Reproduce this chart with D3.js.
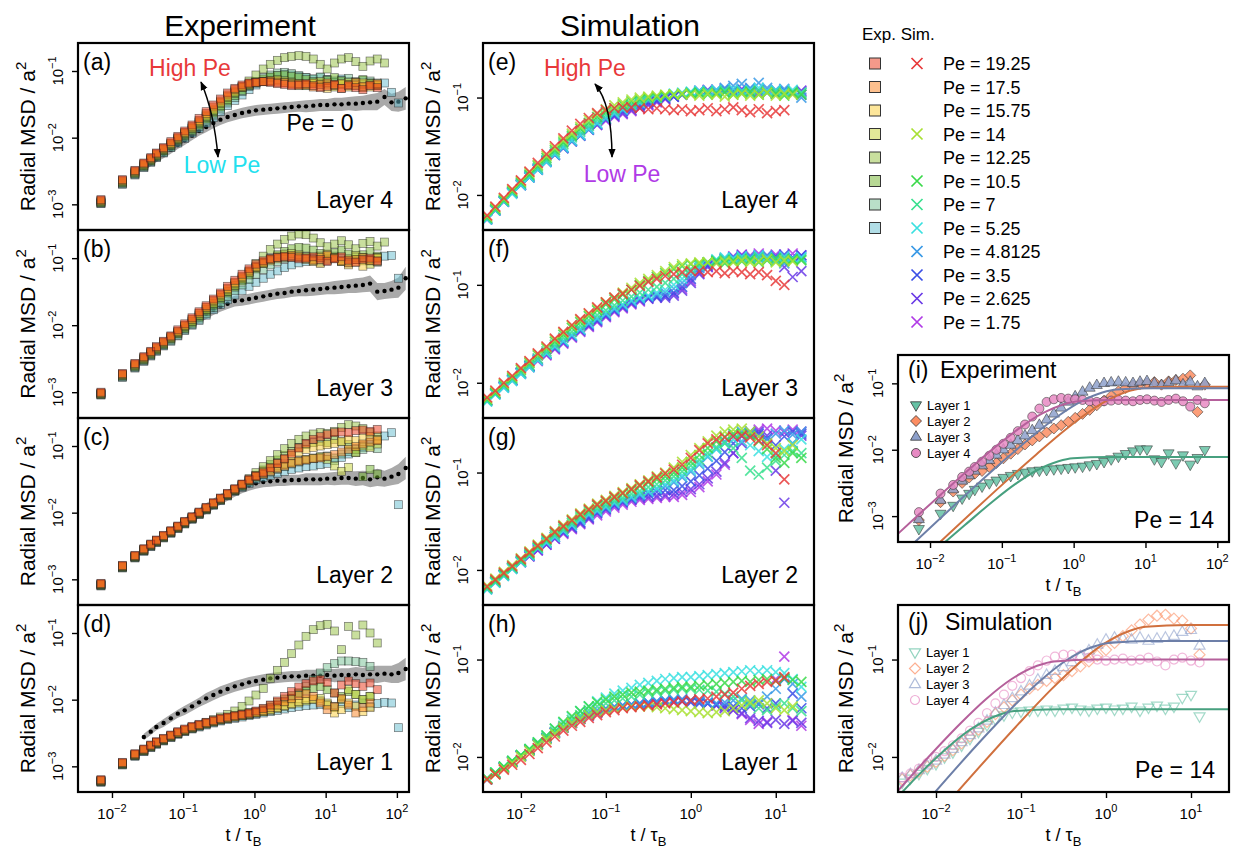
<!DOCTYPE html>
<html>
<head>
<meta charset="utf-8">
<script src="https://d3js.org/d3.v7.min.js"></script>
<style>
  body { margin: 0; background: white; }
  svg { display: block; font-family: "Liberation Sans", Arial, sans-serif; }
</style>
</head>
<body>
<svg id="chart" width="1233" height="848"></svg>
<script>
// ---------- data (MSD values are log10) ----------
var expTimes = [0.007,0.014,0.021,0.028,0.035,0.042,0.053,0.067,0.084,0.105,0.133,0.167,0.21,0.265,0.333,0.42,0.53,0.67,0.84,1.05,1.33,1.67,2.1,2.65,3.33,4.2,5.3,6.7,8.4,10.5,13.3,16.7,21,26.5,33.3,42,53,67,84,105,133]
var simTimes = [0.004,0.005,0.0063,0.0079,0.01,0.0126,0.0158,0.02,0.0251,0.0316,0.0398,0.05,0.063,0.079,0.1,0.126,0.158,0.2,0.251,0.316,0.398,0.5,0.63,0.79,1,1.26,1.58,2,2.51,3.16,3.98,5,6.3,7.9,10,12.6,15.8,20]

var expPe = ["19.25","17.5","15.75","14","12.25","10.5","7","5.25"]
var expColors = ["#e93315","#fb811d","#fbcd35","#c5d131","#93bf3d","#6fb129","#73bf91","#63bbcd"]
var simPe = ["19.25","14","10.5","7","5.25","4.8125","3.5","2.625","1.75"]
var simColors = ["#e8393a","#a8e032","#3ad94a","#3ae08f","#3ae0e0","#3a9ae6","#3a4fe6","#6a3ae6","#b03ae6"]

var legendPe = ["19.25","17.5","15.75","14","12.25","10.5","7","5.25","4.8125","3.5","2.625","1.75"]
var legendExp = [0,1,2,3,4,5,6,7,null,null,null,null]
var legendSim = [0,null,null,1,null,2,3,4,5,6,7,8]

// experiment, order as expPe
var expLayer4 = [
  [-2.93,-2.63,-2.49,-2.38,-2.3,-2.23,-2.15,-2.06,-1.98,-1.9,-1.81,-1.71,-1.61,-1.51,-1.42,-1.33,-1.26,-1.21,-1.18,-1.17,-1.16,-1.17,-1.19,-1.2,-1.22,-1.21,-1.19,-1.22,-1.25,-1.23,-1.2,-1.26,-1.22,-1.25,-1.28,-1.22,-1.25],
  [-2.94,-2.64,-2.5,-2.39,-2.31,-2.24,-2.16,-2.08,-2.0,-1.92,-1.83,-1.74,-1.64,-1.54,-1.45,-1.36,-1.28,-1.23,-1.19,-1.17,-1.16,-1.15,-1.17,-1.18,-1.2,-1.19,-1.21,-1.24,-1.2,-1.18,-1.22,-1.26,-1.2,-1.17,-1.23,-1.21,-1.19],
  [-2.95,-2.65,-2.51,-2.4,-2.32,-2.25,-2.17,-2.09,-2.01,-1.93,-1.85,-1.76,-1.66,-1.57,-1.47,-1.38,-1.3,-1.24,-1.2,-1.18,-1.16,-1.16,-1.15,-1.17,-1.19,-1.22,-1.2,-1.18,-1.23,-1.26,-1.21,-1.19,-1.24,-1.21,-1.18,-1.24,-1.2],
  [-2.96,-2.66,-2.52,-2.41,-2.33,-2.26,-2.18,-2.1,-2.02,-1.94,-1.86,-1.77,-1.68,-1.59,-1.49,-1.4,-1.32,-1.25,-1.21,-1.18,-1.16,-1.14,-1.13,-1.15,-1.17,-1.2,-1.22,-1.19,-1.16,-1.21,-1.24,-1.2,-1.17,-1.22,-1.25,-1.19,-1.22],
  [-2.97,-2.67,-2.53,-2.42,-2.34,-2.27,-2.19,-2.11,-2.03,-1.95,-1.87,-1.79,-1.7,-1.61,-1.52,-1.43,-1.34,-1.25,-1.15,-1.06,-0.97,-0.9,-0.84,-0.8,-0.78,-0.77,-0.78,-0.82,-0.9,-0.97,-0.88,-0.82,-0.8,-0.86,-0.93,-0.85,-0.82,-0.88],
  [-2.98,-2.68,-2.54,-2.43,-2.35,-2.28,-2.2,-2.12,-2.04,-1.97,-1.89,-1.81,-1.72,-1.63,-1.54,-1.45,-1.37,-1.29,-1.22,-1.16,-1.12,-1.09,-1.07,-1.06,-1.08,-1.1,-1.13,-1.16,-1.18,-1.14,-1.1,-1.15,-1.2,-1.17,-1.13,-1.18,-1.21],
  [-2.98,-2.69,-2.55,-2.44,-2.36,-2.29,-2.22,-2.14,-2.06,-1.99,-1.91,-1.83,-1.75,-1.66,-1.57,-1.48,-1.4,-1.31,-1.23,-1.16,-1.1,-1.06,-1.03,-1.02,-1.04,-1.07,-1.1,-1.12,-1.09,-1.13,-1.17,-1.14,-1.11,-1.16,-1.2,-1.15,-1.18],
  [-2.99,-2.7,-2.56,-2.45,-2.37,-2.3,-2.23,-2.15,-2.08,-2.01,-1.93,-1.86,-1.78,-1.7,-1.61,-1.52,-1.44,-1.36,-1.28,-1.21,-1.15,-1.1,-1.07,-1.05,-1.06,-1.08,-1.1,-1.12,-1.1,-1.13,-1.15,-1.12,-1.16,-1.19,-1.14,-1.18,-1.22,-1.18,-1.32,-1.48]
]
var expLayer3 = [
  [-3.0,-2.72,-2.57,-2.47,-2.39,-2.32,-2.24,-2.16,-2.07,-1.98,-1.89,-1.8,-1.71,-1.61,-1.52,-1.42,-1.33,-1.24,-1.16,-1.09,-1.04,-1.01,-0.99,-0.98,-0.99,-1.01,-1.0,-0.98,-1.02,-1.05,-1.01,-0.98,-1.03,-1.06,-1.02,-1.0,-1.04],
  [-3.01,-2.73,-2.58,-2.48,-2.4,-2.33,-2.25,-2.17,-2.09,-2.0,-1.91,-1.82,-1.73,-1.63,-1.54,-1.45,-1.36,-1.27,-1.19,-1.12,-1.06,-1.02,-0.99,-0.97,-0.96,-0.98,-1.0,-1.03,-0.99,-0.96,-1.0,-1.04,-1.07,-1.02,-0.99,-1.03,-1.05],
  [-3.02,-2.74,-2.59,-2.49,-2.41,-2.34,-2.26,-2.18,-2.1,-2.01,-1.92,-1.83,-1.74,-1.65,-1.56,-1.47,-1.38,-1.29,-1.21,-1.14,-1.08,-1.04,-1.01,-0.99,-0.98,-0.99,-1.02,-1.05,-1.08,-1.03,-0.99,-1.05,-1.1,-1.06,-1.12,-1.04,-1.0],
  [-3.02,-2.74,-2.6,-2.5,-2.42,-2.35,-2.27,-2.19,-2.11,-2.02,-1.94,-1.85,-1.76,-1.67,-1.58,-1.49,-1.4,-1.31,-1.22,-1.14,-1.07,-1.01,-0.97,-0.94,-0.93,-0.95,-0.98,-1.02,-0.97,-0.94,-0.99,-1.05,-1.01,-0.96,-1.04,-1.09,-0.99],
  [-3.03,-2.75,-2.61,-2.51,-2.43,-2.36,-2.28,-2.2,-2.12,-2.04,-1.95,-1.86,-1.77,-1.68,-1.59,-1.5,-1.41,-1.31,-1.2,-1.08,-0.97,-0.87,-0.79,-0.72,-0.67,-0.64,-0.65,-0.7,-0.77,-0.83,-0.79,-0.74,-0.8,-0.86,-0.78,-0.75,-0.82,-0.76],
  [-3.03,-2.76,-2.62,-2.52,-2.44,-2.37,-2.29,-2.21,-2.13,-2.05,-1.97,-1.88,-1.79,-1.7,-1.61,-1.52,-1.43,-1.34,-1.25,-1.16,-1.08,-1.01,-0.95,-0.9,-0.86,-0.84,-0.85,-0.88,-0.93,-0.97,-0.92,-0.88,-0.94,-0.99,-0.95,-0.9,-0.97],
  [-3.04,-2.77,-2.63,-2.53,-2.45,-2.38,-2.3,-2.23,-2.15,-2.07,-1.99,-1.91,-1.83,-1.74,-1.66,-1.57,-1.48,-1.4,-1.32,-1.24,-1.17,-1.1,-1.05,-1.01,-0.98,-0.97,-0.98,-1.0,-1.03,-1.0,-0.97,-1.01,-1.05,-1.02,-0.99,-1.03,-1.06],
  [-3.04,-2.78,-2.64,-2.54,-2.46,-2.39,-2.31,-2.24,-2.16,-2.08,-2.0,-1.93,-1.85,-1.77,-1.69,-1.62,-1.55,-1.48,-1.42,-1.36,-1.3,-1.24,-1.19,-1.14,-1.1,-1.07,-1.05,-1.04,-1.06,-1.03,-1.0,-1.04,-1.07,-1.02,-0.99,-1.03,-0.99,-0.97,-0.96,-1.3]
]
var expLayer2 = [
  [-3.06,-2.79,-2.64,-2.54,-2.47,-2.41,-2.34,-2.27,-2.2,-2.13,-2.06,-1.99,-1.92,-1.85,-1.78,-1.71,-1.64,-1.57,-1.5,-1.45,-1.4,-1.33,-1.26,-1.19,-1.11,-1.03,-0.96,-0.9,-0.86,-0.83,-0.8,-0.79,-0.8,-0.77,-0.76,-0.78,-0.75],
  [-3.07,-2.8,-2.65,-2.55,-2.48,-2.42,-2.35,-2.28,-2.21,-2.14,-2.07,-2.0,-1.93,-1.86,-1.79,-1.72,-1.65,-1.58,-1.52,-1.46,-1.42,-1.38,-1.34,-1.3,-1.26,-1.23,-1.21,-1.19,-1.18,-1.16,-1.13,-1.09,-1.05,-1.01,-0.97,-0.94,-0.92],
  [-3.07,-2.8,-2.65,-2.55,-2.48,-2.42,-2.35,-2.28,-2.21,-2.14,-2.07,-2.0,-1.93,-1.86,-1.79,-1.72,-1.65,-1.58,-1.51,-1.44,-1.38,-1.32,-1.26,-1.2,-1.14,-1.09,-1.05,-1.02,-1.0,-0.98,-0.96,-0.93,-0.9,-0.92,-0.88,-0.86,-0.9],
  [-3.08,-2.81,-2.66,-2.56,-2.49,-2.43,-2.36,-2.29,-2.22,-2.15,-2.08,-2.01,-1.94,-1.87,-1.8,-1.73,-1.66,-1.59,-1.52,-1.46,-1.41,-1.36,-1.32,-1.28,-1.25,-1.22,-1.2,-1.18,-1.16,-1.2,-1.3,-1.38,-1.32,-1.1,-1.0,-1.02,-0.97],
  [-3.08,-2.81,-2.66,-2.56,-2.49,-2.43,-2.36,-2.29,-2.22,-2.15,-2.08,-2.01,-1.94,-1.87,-1.8,-1.73,-1.66,-1.58,-1.49,-1.4,-1.31,-1.22,-1.13,-1.04,-0.96,-0.9,-0.85,-0.82,-0.8,-0.81,-0.78,-0.72,-0.68,-0.7,-0.74,-0.8,-0.85],
  [-3.09,-2.82,-2.67,-2.57,-2.5,-2.44,-2.37,-2.3,-2.23,-2.16,-2.09,-2.02,-1.95,-1.88,-1.81,-1.74,-1.67,-1.6,-1.52,-1.44,-1.36,-1.28,-1.21,-1.14,-1.08,-1.02,-0.98,-0.95,-0.93,-0.95,-0.9,-0.94,-0.98,-1.05,-1.46,-1.35,-1.42],
  [-3.09,-2.82,-2.67,-2.57,-2.5,-2.44,-2.37,-2.3,-2.23,-2.16,-2.09,-2.02,-1.95,-1.88,-1.81,-1.74,-1.67,-1.61,-1.54,-1.48,-1.43,-1.39,-1.35,-1.31,-1.27,-1.24,-1.21,-1.19,-1.17,-1.15,-1.18,-1.12,-1.08,-1.1,-1.05,-1.0,-1.04],
  [-3.1,-2.83,-2.68,-2.58,-2.51,-2.45,-2.38,-2.31,-2.24,-2.17,-2.1,-2.03,-1.96,-1.89,-1.82,-1.75,-1.68,-1.62,-1.56,-1.5,-1.47,-1.44,-1.41,-1.38,-1.35,-1.33,-1.31,-1.3,-1.28,-1.26,-1.22,-1.17,-1.12,-1.08,-1.02,-0.95,-0.9,-0.85,-0.8,-1.88]
]
var expLayer1 = [
  [-3.2,-2.94,-2.81,-2.74,-2.68,-2.63,-2.58,-2.53,-2.48,-2.44,-2.4,-2.37,-2.34,-2.31,-2.28,-2.26,-2.24,-2.22,-2.2,-2.17,-2.13,-2.08,-2.02,-1.95,-1.88,-1.81,-1.76,-1.72,-1.7,-1.74,-1.9,-1.78,-1.72,-1.76,-1.8,-1.75,-1.85],
  [-3.21,-2.95,-2.82,-2.75,-2.69,-2.64,-2.59,-2.54,-2.49,-2.45,-2.41,-2.38,-2.35,-2.32,-2.29,-2.27,-2.25,-2.23,-2.21,-2.19,-2.16,-2.12,-2.08,-2.03,-1.98,-1.94,-1.91,-1.95,-2.05,-2.15,-2.1,-1.98,-2.08,-2.2,-2.12,-2.05],
  [-3.21,-2.95,-2.82,-2.75,-2.69,-2.64,-2.59,-2.54,-2.5,-2.46,-2.42,-2.39,-2.36,-2.33,-2.3,-2.28,-2.26,-2.24,-2.22,-2.2,-2.18,-2.15,-2.12,-2.09,-2.06,-2.03,-2.0,-1.99,-2.02,-2.08,-2.2,-2.15,-2.05,-2.1,-2.18,-2.12],
  [-3.22,-2.96,-2.83,-2.76,-2.7,-2.65,-2.6,-2.55,-2.5,-2.46,-2.42,-2.39,-2.36,-2.33,-2.3,-2.28,-2.26,-2.24,-2.22,-2.2,-2.18,-2.16,-2.13,-2.1,-2.07,-2.05,-2.02,-2.0,-1.98,-2.05,-2.12,-2.0,-1.85,-1.92,-2.0,-1.95],
  [-3.22,-2.96,-2.83,-2.76,-2.7,-2.65,-2.6,-2.55,-2.5,-2.46,-2.42,-2.38,-2.34,-2.3,-2.26,-2.22,-2.17,-2.1,-2.02,-1.93,-1.83,-1.68,-1.56,-1.44,-1.31,-1.18,-1.05,-0.95,-0.89,-0.87,-0.97,-1.25,-0.9,-1.03,-0.88,-1.0,-1.15],
  [-3.23,-2.97,-2.84,-2.77,-2.71,-2.66,-2.61,-2.56,-2.51,-2.47,-2.43,-2.39,-2.36,-2.33,-2.3,-2.27,-2.24,-2.21,-2.19,-2.18,-2.14,-2.09,-2.04,-1.99,-1.94,-1.9,-1.86,-1.83,-1.8,-1.85,-1.9,-1.95,-1.88,-1.92,-2.0,-1.95],
  [-3.23,-2.97,-2.84,-2.77,-2.71,-2.66,-2.61,-2.56,-2.51,-2.47,-2.43,-2.4,-2.37,-2.34,-2.31,-2.28,-2.26,-2.24,-2.22,-2.2,-2.17,-2.13,-2.09,-2.04,-1.98,-1.9,-1.8,-1.7,-1.6,-1.52,-1.46,-1.42,-1.42,-1.43,-1.44,-1.5],
  [-3.24,-2.98,-2.85,-2.78,-2.72,-2.67,-2.62,-2.57,-2.52,-2.48,-2.44,-2.41,-2.38,-2.35,-2.32,-2.3,-2.28,-2.26,-2.24,-2.22,-2.2,-2.18,-2.16,-2.14,-2.12,-2.1,-2.09,-2.08,-2.07,-2.08,-2.1,-2.06,-2.12,-2.08,-2.05,-2.1,-2.06,-2.04,-2.05,-2.42]
]
// Pe = 0 reference (black dots) and half-width of its grey band
var zero4 = [null,null,null,-2.45,-2.38,-2.32,-2.25,-2.18,-2.11,-2.04,-1.97,-1.9,-1.84,-1.78,-1.73,-1.69,-1.66,-1.63,-1.61,-1.59,-1.58,-1.57,-1.56,-1.55,-1.54,-1.53,-1.53,-1.52,-1.51,-1.51,-1.5,-1.5,-1.49,-1.49,-1.48,-1.47,-1.46,-1.39,-1.47,-1.46,-1.41]
var zero3 = [null,null,null,-2.5,-2.42,-2.35,-2.27,-2.19,-2.11,-2.03,-1.96,-1.89,-1.83,-1.77,-1.72,-1.68,-1.64,-1.63,-1.61,-1.59,-1.57,-1.55,-1.53,-1.52,-1.5,-1.49,-1.48,-1.47,-1.46,-1.45,-1.44,-1.43,-1.42,-1.41,-1.4,-1.38,-1.5,-1.49,-1.47,-1.44,-1.3]
var zero2 = [null,null,null,-2.56,-2.49,-2.43,-2.36,-2.29,-2.22,-2.15,-2.08,-2.01,-1.94,-1.87,-1.8,-1.74,-1.68,-1.63,-1.59,-1.56,-1.54,-1.53,-1.52,-1.52,-1.51,-1.51,-1.5,-1.5,-1.5,-1.49,-1.49,-1.48,-1.48,-1.49,-1.48,-1.5,-1.47,-1.49,-1.46,-1.42,-1.33]
var zero1 = [null,null,null,-2.56,-2.48,-2.41,-2.35,-2.28,-2.21,-2.16,-2.1,-2.04,-1.98,-1.93,-1.88,-1.84,-1.8,-1.77,-1.74,-1.72,-1.7,-1.68,-1.67,-1.66,-1.65,-1.65,-1.64,-1.64,-1.64,-1.63,-1.64,-1.63,-1.63,-1.62,-1.63,-1.62,-1.62,-1.61,-1.62,-1.6,-1.54]
var zeroSpread = [0,0,0,0.05,0.05,0.05,0.06,0.06,0.06,0.07,0.07,0.07,0.08,0.08,0.08,0.08,0.08,0.08,0.08,0.08,0.08,0.08,0.08,0.08,0.08,0.08,0.09,0.09,0.09,0.09,0.1,0.1,0.1,0.11,0.11,0.12,0.13,0.12,0.13,0.15,0.17]

// simulation, order as simPe
var simLayer4 = [
  [-2.21,-2.12,-2.03,-1.94,-1.85,-1.76,-1.67,-1.58,-1.5,-1.42,-1.34,-1.27,-1.21,-1.16,-1.13,-1.11,-1.1,-1.1,-1.11,-1.12,-1.11,-1.12,-1.13,-1.12,-1.14,-1.13,-1.11,-1.14,-1.12,-1.1,-1.13,-1.15,-1.12,-1.16,-1.14,-1.13],
  [-2.22,-2.13,-2.04,-1.95,-1.86,-1.77,-1.69,-1.6,-1.52,-1.44,-1.37,-1.3,-1.23,-1.17,-1.12,-1.08,-1.05,-1.02,-1.0,-0.99,-0.98,-0.97,-0.97,-0.96,-0.97,-0.98,-0.96,-0.97,-0.99,-0.97,-0.96,-0.98,-0.97,-0.95,-0.98,-0.96,-0.97],
  [-2.23,-2.14,-2.05,-1.96,-1.87,-1.79,-1.7,-1.62,-1.54,-1.46,-1.39,-1.32,-1.26,-1.2,-1.15,-1.11,-1.07,-1.04,-1.02,-1.0,-0.99,-0.98,-0.97,-0.97,-0.96,-0.95,-0.97,-0.96,-0.95,-0.97,-0.96,-0.94,-0.97,-0.95,-0.96,-0.98,-0.95,-0.97],
  [-2.24,-2.15,-2.06,-1.97,-1.88,-1.8,-1.72,-1.64,-1.56,-1.48,-1.41,-1.35,-1.29,-1.23,-1.18,-1.14,-1.1,-1.07,-1.04,-1.02,-1.0,-0.98,-0.97,-0.96,-0.95,-0.96,-0.94,-0.95,-0.93,-0.95,-0.94,-0.96,-0.93,-0.95,-0.94,-0.96,-0.94,-0.95],
  [-2.25,-2.16,-2.07,-1.99,-1.9,-1.82,-1.74,-1.66,-1.58,-1.51,-1.44,-1.38,-1.32,-1.26,-1.21,-1.16,-1.12,-1.08,-1.05,-1.02,-1.0,-0.98,-0.96,-0.95,-0.94,-0.93,-0.94,-0.92,-0.93,-0.91,-0.93,-0.92,-0.9,-0.93,-0.92,-0.94,-0.92,-0.95],
  [-2.25,-2.16,-2.07,-1.98,-1.9,-1.82,-1.74,-1.66,-1.59,-1.52,-1.45,-1.39,-1.33,-1.27,-1.22,-1.17,-1.13,-1.09,-1.06,-1.03,-1.01,-0.99,-0.97,-0.96,-0.95,-0.94,-0.93,-0.92,-0.9,-0.88,-0.86,-0.9,-0.85,-0.9,-0.93,-0.91,-0.94,-1.0],
  [-2.24,-2.15,-2.06,-1.97,-1.89,-1.81,-1.73,-1.65,-1.58,-1.51,-1.44,-1.38,-1.32,-1.27,-1.22,-1.18,-1.14,-1.11,-1.08,-1.05,-1.03,-1.01,-0.99,-0.97,-0.96,-0.95,-0.94,-0.95,-0.93,-0.94,-0.92,-0.95,-0.93,-0.94,-0.96,-0.93,-0.95,-0.97],
  [-2.25,-2.16,-2.07,-1.98,-1.9,-1.82,-1.74,-1.66,-1.59,-1.52,-1.45,-1.39,-1.33,-1.28,-1.23,-1.19,-1.16,-1.13,-1.1,-1.07,-1.04,-1.01,-0.99,-0.97,-0.95,-0.93,-0.92,-0.93,-0.91,-0.92,-0.94,-0.91,-0.93,-0.95,-0.92,-0.94,-0.96,-0.93],
  [-2.25,-2.16,-2.07,-1.98,-1.9,-1.82,-1.74,-1.66,-1.59,-1.52,-1.45,-1.39,-1.33,-1.28,-1.24,-1.2,-1.17,-1.14,-1.11,-1.08,-1.05,-1.02,-0.99,-0.97,-0.96,-0.94,-0.93,-0.92,-0.94,-0.93,-0.91,-0.93,-0.95,-0.92,-0.94,-0.93,-0.95,-0.94]
]
var simLayer3 = [
  [-2.15,-2.08,-2.0,-1.93,-1.85,-1.78,-1.7,-1.63,-1.55,-1.48,-1.41,-1.35,-1.29,-1.23,-1.18,-1.13,-1.09,-1.05,-1.01,-0.97,-0.94,-0.91,-0.89,-0.87,-0.86,-0.86,-0.87,-0.86,-0.88,-0.86,-0.87,-0.89,-0.87,-0.9,-0.96,-1.0],
  [-2.16,-2.09,-2.01,-1.94,-1.86,-1.79,-1.71,-1.64,-1.56,-1.49,-1.42,-1.36,-1.3,-1.24,-1.18,-1.13,-1.08,-1.03,-0.98,-0.94,-0.9,-0.86,-0.82,-0.79,-0.78,-0.77,-0.77,-0.78,-0.76,-0.77,-0.75,-0.77,-0.76,-0.74,-0.77,-0.75,-0.76],
  [-2.17,-2.1,-2.02,-1.95,-1.87,-1.8,-1.72,-1.65,-1.58,-1.51,-1.44,-1.38,-1.32,-1.26,-1.2,-1.15,-1.1,-1.05,-1.0,-0.96,-0.92,-0.88,-0.84,-0.81,-0.79,-0.78,-0.77,-0.76,-0.78,-0.75,-0.76,-0.74,-0.77,-0.75,-0.73,-0.76,-0.74,-0.75],
  [-2.18,-2.11,-2.03,-1.96,-1.89,-1.82,-1.75,-1.68,-1.61,-1.54,-1.48,-1.42,-1.36,-1.31,-1.26,-1.21,-1.16,-1.12,-1.08,-1.05,-1.02,-0.98,-0.94,-0.89,-0.84,-0.8,-0.77,-0.75,-0.74,-0.76,-0.73,-0.75,-0.72,-0.74,-0.76,-0.73,-0.75,-0.74],
  [-2.19,-2.12,-2.05,-1.98,-1.91,-1.84,-1.77,-1.7,-1.63,-1.57,-1.51,-1.45,-1.39,-1.34,-1.29,-1.24,-1.2,-1.16,-1.13,-1.11,-1.08,-1.05,-1.0,-0.94,-0.87,-0.81,-0.77,-0.74,-0.72,-0.73,-0.71,-0.73,-0.7,-0.72,-0.74,-0.71,-0.73,-0.72],
  [-2.19,-2.12,-2.05,-1.98,-1.91,-1.84,-1.77,-1.7,-1.64,-1.58,-1.52,-1.46,-1.4,-1.35,-1.3,-1.25,-1.21,-1.17,-1.14,-1.12,-1.1,-1.08,-1.04,-0.98,-0.9,-0.83,-0.78,-0.75,-0.73,-0.72,-0.74,-0.71,-0.73,-0.7,-0.72,-0.78,-0.74,-0.72],
  [-2.18,-2.11,-2.04,-1.97,-1.9,-1.83,-1.76,-1.7,-1.64,-1.58,-1.52,-1.46,-1.41,-1.36,-1.31,-1.26,-1.22,-1.18,-1.15,-1.13,-1.12,-1.11,-1.08,-1.02,-0.94,-0.86,-0.8,-0.76,-0.74,-0.72,-0.71,-0.73,-0.7,-0.72,-0.71,-0.69,-0.72,-0.7],
  [-2.18,-2.11,-2.04,-1.97,-1.9,-1.83,-1.77,-1.71,-1.65,-1.59,-1.53,-1.47,-1.42,-1.37,-1.32,-1.27,-1.23,-1.19,-1.16,-1.14,-1.13,-1.13,-1.11,-1.06,-0.98,-0.89,-0.82,-0.77,-0.74,-0.72,-0.7,-0.72,-0.71,-0.73,-0.75,-0.82,-0.92,-0.86],
  [-2.18,-2.11,-2.04,-1.97,-1.9,-1.84,-1.78,-1.72,-1.66,-1.6,-1.54,-1.48,-1.43,-1.38,-1.33,-1.28,-1.24,-1.2,-1.17,-1.14,-1.12,-1.11,-1.09,-1.04,-0.96,-0.88,-0.81,-0.76,-0.73,-0.71,-0.69,-0.7,-0.68,-0.7,-0.69,-0.71,-0.68,-0.7]
]
var simLayer2 = [
  [-2.17,-2.1,-2.03,-1.96,-1.89,-1.82,-1.75,-1.68,-1.61,-1.55,-1.49,-1.43,-1.38,-1.33,-1.29,-1.25,-1.21,-1.17,-1.13,-1.09,-1.05,-1.01,-0.97,-0.92,-0.85,-0.77,-0.7,-0.66,-0.64,-0.63,-0.62,-0.64,-0.67,-0.72,-0.8,-1.07],
  [-2.16,-2.09,-2.02,-1.95,-1.88,-1.81,-1.74,-1.67,-1.6,-1.54,-1.48,-1.42,-1.37,-1.32,-1.28,-1.24,-1.2,-1.16,-1.12,-1.08,-1.04,-1.0,-0.95,-0.89,-0.82,-0.75,-0.68,-0.62,-0.58,-0.56,-0.55,-0.58,-0.63,-0.7,-0.75,-0.78,-0.72],
  [-2.18,-2.11,-2.04,-1.97,-1.9,-1.83,-1.76,-1.69,-1.62,-1.56,-1.5,-1.44,-1.39,-1.34,-1.3,-1.26,-1.22,-1.18,-1.14,-1.1,-1.07,-1.04,-1.0,-0.95,-0.89,-0.82,-0.75,-0.68,-0.63,-0.6,-0.6,-0.62,-0.68,-0.76,-0.85,-0.9,-0.8,-0.85],
  [-2.19,-2.12,-2.05,-1.98,-1.91,-1.84,-1.77,-1.7,-1.64,-1.58,-1.52,-1.46,-1.41,-1.37,-1.33,-1.29,-1.26,-1.22,-1.19,-1.15,-1.12,-1.08,-1.04,-0.99,-0.93,-0.87,-0.8,-0.74,-0.7,-0.75,-0.85,-0.98,-1.02,-0.95,-0.88,-0.82,-0.78,-0.8],
  [-2.2,-2.13,-2.06,-1.99,-1.92,-1.85,-1.78,-1.72,-1.66,-1.6,-1.54,-1.48,-1.43,-1.39,-1.35,-1.31,-1.28,-1.25,-1.22,-1.19,-1.16,-1.12,-1.08,-1.03,-0.97,-0.9,-0.83,-0.76,-0.7,-0.66,-0.68,-0.72,-0.78,-0.84,-0.82,-0.76,-0.7,-0.66],
  [-2.2,-2.13,-2.06,-1.99,-1.92,-1.85,-1.78,-1.72,-1.66,-1.6,-1.54,-1.49,-1.44,-1.4,-1.36,-1.32,-1.29,-1.26,-1.23,-1.2,-1.17,-1.14,-1.1,-1.05,-0.99,-0.92,-0.84,-0.76,-0.68,-0.62,-0.58,-0.6,-0.63,-0.66,-0.6,-0.57,-0.61,-0.58],
  [-2.19,-2.12,-2.05,-1.98,-1.91,-1.85,-1.78,-1.72,-1.66,-1.61,-1.56,-1.51,-1.46,-1.41,-1.37,-1.33,-1.3,-1.27,-1.24,-1.22,-1.2,-1.18,-1.18,-1.14,-1.09,-1.03,-0.96,-0.88,-0.79,-0.7,-0.63,-0.58,-0.6,-0.65,-0.72,-0.63,-0.58,-0.6],
  [-2.19,-2.12,-2.05,-1.98,-1.92,-1.86,-1.8,-1.74,-1.68,-1.62,-1.57,-1.52,-1.47,-1.42,-1.38,-1.34,-1.31,-1.28,-1.26,-1.25,-1.24,-1.23,-1.22,-1.2,-1.17,-1.12,-1.06,-0.99,-0.9,-0.8,-0.7,-0.62,-0.58,-0.62,-0.98,-1.31,-0.7,-0.62],
  [-2.19,-2.12,-2.05,-1.98,-1.92,-1.86,-1.8,-1.74,-1.68,-1.63,-1.58,-1.53,-1.48,-1.44,-1.4,-1.36,-1.33,-1.3,-1.28,-1.27,-1.26,-1.25,-1.25,-1.23,-1.2,-1.15,-1.09,-1.02,-0.92,-0.8,-0.68,-0.6,-0.56,-0.55,-0.57,-0.59,-0.56,-0.58]
]
var simLayer1 = [
  [-2.23,-2.18,-2.13,-2.08,-2.03,-1.97,-1.91,-1.85,-1.79,-1.73,-1.68,-1.64,-1.6,-1.57,-1.54,-1.52,-1.5,-1.49,-1.48,-1.47,-1.46,-1.45,-1.44,-1.43,-1.42,-1.41,-1.4,-1.38,-1.36,-1.34,-1.3,-1.27,-1.25,-1.23,-1.22,-1.18],
  [-2.23,-2.18,-2.12,-2.06,-2.0,-1.94,-1.88,-1.82,-1.76,-1.7,-1.65,-1.61,-1.57,-1.54,-1.52,-1.5,-1.49,-1.48,-1.48,-1.48,-1.49,-1.5,-1.51,-1.52,-1.53,-1.54,-1.55,-1.54,-1.53,-1.5,-1.47,-1.44,-1.42,-1.45,-1.5,-1.52,-1.48],
  [-2.22,-2.16,-2.1,-2.04,-1.98,-1.92,-1.85,-1.78,-1.71,-1.64,-1.58,-1.53,-1.48,-1.44,-1.41,-1.38,-1.36,-1.34,-1.33,-1.32,-1.31,-1.3,-1.29,-1.28,-1.28,-1.27,-1.26,-1.25,-1.24,-1.23,-1.22,-1.23,-1.21,-1.2,-1.22,-1.19,-1.21,-1.23],
  [-2.22,-2.16,-2.1,-2.04,-1.98,-1.92,-1.86,-1.8,-1.74,-1.68,-1.62,-1.57,-1.52,-1.48,-1.45,-1.42,-1.4,-1.38,-1.36,-1.34,-1.33,-1.32,-1.31,-1.3,-1.3,-1.31,-1.32,-1.33,-1.35,-1.38,-1.42,-1.46,-1.5,-1.52,-1.48,-1.45,-1.5,-1.53],
  [-2.22,-2.16,-2.1,-2.04,-1.98,-1.92,-1.85,-1.78,-1.71,-1.65,-1.59,-1.53,-1.48,-1.43,-1.39,-1.35,-1.32,-1.29,-1.26,-1.24,-1.22,-1.2,-1.19,-1.18,-1.18,-1.17,-1.16,-1.15,-1.14,-1.13,-1.12,-1.11,-1.12,-1.11,-1.13,-1.14,-1.2,-1.28],
  [-2.23,-2.17,-2.11,-2.05,-1.99,-1.93,-1.87,-1.81,-1.75,-1.69,-1.64,-1.59,-1.55,-1.52,-1.5,-1.48,-1.47,-1.46,-1.45,-1.44,-1.43,-1.42,-1.41,-1.41,-1.42,-1.43,-1.44,-1.45,-1.44,-1.42,-1.4,-1.42,-1.45,-1.38,-1.3,-1.2,-1.25,-1.38],
  [-2.23,-2.17,-2.11,-2.05,-1.99,-1.93,-1.87,-1.81,-1.75,-1.7,-1.65,-1.61,-1.57,-1.54,-1.51,-1.49,-1.47,-1.46,-1.45,-1.44,-1.43,-1.42,-1.42,-1.43,-1.44,-1.45,-1.45,-1.46,-1.47,-1.48,-1.5,-1.48,-1.46,-1.5,-1.45,-1.2,-1.35,-1.5],
  [-2.23,-2.17,-2.11,-2.05,-1.99,-1.93,-1.87,-1.81,-1.75,-1.7,-1.65,-1.61,-1.57,-1.54,-1.51,-1.49,-1.48,-1.47,-1.46,-1.45,-1.44,-1.43,-1.42,-1.41,-1.42,-1.43,-1.45,-1.47,-1.5,-1.52,-1.55,-1.6,-1.63,-1.65,-1.62,-1.66,-1.63,-1.65],
  [-2.23,-2.17,-2.11,-2.05,-1.99,-1.93,-1.87,-1.81,-1.75,-1.7,-1.65,-1.61,-1.58,-1.55,-1.52,-1.5,-1.49,-1.48,-1.47,-1.46,-1.45,-1.44,-1.44,-1.43,-1.43,-1.44,-1.45,-1.47,-1.49,-1.52,-1.56,-1.62,-1.66,-1.64,-1.2,-0.97,-1.62,-1.68]
]

// Pe = 14, layers 1..4
var layerNames = ["Layer 1","Layer 2","Layer 3","Layer 4"]
var layerFill = ["#66c2a5","#fc8d62","#8da0cb","#e78ac3"]
var layerLine = ["#47a07f","#d0703e","#6d7fa8","#b5609b"]
var pe14Exp = [
  [-3.19,-2.96,-2.84,-2.73,-2.66,-2.6,-2.55,-2.5,-2.46,-2.42,-2.39,-2.36,-2.34,-2.32,-2.31,-2.3,-2.29,-2.28,-2.27,-2.26,-2.25,-2.23,-2.21,-2.18,-2.14,-2.1,-2.06,-2.02,-1.99,-1.99,-2.14,-2.18,-2.05,-2.2,-2.08,-2.22,-2.12,-2.0],
  [-3.06,-2.79,-2.63,-2.5,-2.42,-2.36,-2.32,-2.26,-2.2,-2.13,-2.06,-1.99,-1.92,-1.86,-1.8,-1.74,-1.68,-1.63,-1.58,-1.52,-1.46,-1.4,-1.33,-1.26,-1.19,-1.12,-1.07,-1.03,-1.01,-1.0,-0.98,-1.02,-0.97,-0.95,-0.93,-0.88,-1.43,-1.02],
  [-3.05,-2.76,-2.6,-2.47,-2.39,-2.32,-2.24,-2.16,-2.08,-2.0,-1.93,-1.86,-1.79,-1.71,-1.63,-1.55,-1.46,-1.37,-1.28,-1.2,-1.13,-1.07,-1.03,-1.0,-0.99,-0.98,-0.99,-1.0,-0.98,-0.97,-1.0,-1.03,-0.99,-0.96,-1.02,-0.98,-1.05,-1.0],
  [-2.94,-2.66,-2.53,-2.41,-2.33,-2.26,-2.18,-2.09,-2.0,-1.91,-1.82,-1.72,-1.62,-1.5,-1.38,-1.28,-1.24,-1.22,-1.23,-1.24,-1.25,-1.27,-1.28,-1.27,-1.26,-1.25,-1.26,-1.27,-1.25,-1.24,-1.26,-1.28,-1.25,-1.23,-1.27,-1.35,-1.25,-1.3]
]
var pe14Sim = [
  [-2.26,-2.22,-2.17,-2.12,-2.07,-2.0,-1.95,-1.88,-1.81,-1.74,-1.67,-1.61,-1.57,-1.54,-1.53,-1.52,-1.52,-1.51,-1.52,-1.5,-1.49,-1.51,-1.52,-1.5,-1.49,-1.51,-1.5,-1.48,-1.52,-1.49,-1.47,-1.5,-1.48,-1.39,-1.36,-1.58],
  [-2.23,-2.19,-2.15,-2.1,-2.05,-1.99,-1.93,-1.86,-1.79,-1.72,-1.64,-1.56,-1.49,-1.42,-1.36,-1.3,-1.26,-1.22,-1.19,-1.16,-1.12,-1.07,-1.02,-0.96,-0.9,-0.83,-0.76,-0.7,-0.64,-0.59,-0.55,-0.54,-0.58,-0.6,-0.68,-0.95],
  [-2.22,-2.18,-2.14,-2.09,-2.04,-1.98,-1.92,-1.85,-1.78,-1.71,-1.63,-1.55,-1.47,-1.4,-1.33,-1.27,-1.21,-1.16,-1.12,-1.08,-1.03,-0.97,-0.91,-0.85,-0.8,-0.78,-0.79,-0.8,-0.78,-0.81,-0.79,-0.78,-0.76,-0.72,-0.7,-0.86],
  [-2.21,-2.17,-2.12,-2.06,-2.0,-1.94,-1.88,-1.81,-1.73,-1.65,-1.55,-1.45,-1.36,-1.27,-1.19,-1.12,-1.06,-1.01,-0.97,-0.95,-0.95,-0.96,-0.98,-1.0,-1.01,-1.0,-0.99,-1.01,-1.0,-0.98,-1.02,-1.06,-1.0,-0.98,-1.01,-1.03]
]
// fitted curves, [log10 t, log10 MSD]
var pe14ExpFits = [
  [[-1.79,-3.39],[-1.51,-3.131],[-1.11,-2.764],[-0.81,-2.515],[-0.51,-2.309],[-0.21,-2.174],[-0.01,-2.129],[0.49,-2.11],[2.16,-2.11]],
  [[-1.86,-3.39],[-0.52,-2.071],[-0.12,-1.704],[0.18,-1.455],[0.48,-1.25],[0.78,-1.114],[0.98,-1.069],[1.48,-1.05],[2.16,-1.05]],
  [[-2.21,-3.39],[-0.9,-2.096],[-0.5,-1.729],[-0.2,-1.48],[0.1,-1.275],[0.4,-1.139],[0.6,-1.094],[1.1,-1.075],[2.16,-1.075]],
  [[-2.44,-3.26],[-1.43,-2.27],[-1.03,-1.904],[-0.73,-1.655],[-0.43,-1.45],[-0.13,-1.314],[0.07,-1.27],[0.57,-1.25],[2.16,-1.25]]
]
var pe14SimFits = [
  [[-2.45,-2.41],[-2.18,-2.164],[-1.88,-1.915],[-1.58,-1.71],[-1.28,-1.574],[-1.08,-1.529],[-0.58,-1.51],[1.45,-1.51]],
  [[-1.76,-2.37],[-1.035,-1.666],[-0.635,-1.299],[-0.335,-1.05],[-0.035,-0.845],[0.265,-0.709],[0.465,-0.664],[0.965,-0.645],[1.45,-0.645]],
  [[-2.02,-2.37],[-1.47,-1.831],[-1.07,-1.464],[-0.77,-1.215],[-0.47,-1.01],[-0.17,-0.874],[0.03,-0.829],[0.53,-0.81],[1.45,-0.81]],
  [[-2.45,-2.35],[-2.11,-2.021],[-1.71,-1.654],[-1.41,-1.405],[-1.11,-1.2],[-0.81,-1.064],[-0.61,-1.019],[-0.11,-1.0],[1.45,-1.0]]
]

// ---------- layout ----------
var svg = d3.select("#chart")
var W = 331
var rows = [43, 230, 418, 605, 792]
var expT = [-2.477, 2.17], expM = [-3.385, -0.58]
var simT = [-2.446, 1.45], simM = [-2.36, -0.44]
var clipCount = 0

svg.append("defs").append("marker")
	.attr("id", "head")
	.attr("viewBox", "0 0 10 10")
	.attr("refX", 9).attr("refY", 5)
	.attr("markerWidth", 9).attr("markerHeight", 9)
	.attr("markerUnits", "userSpaceOnUse")
	.attr("orient", "auto-start-reverse")
	.append("path").attr("d", "M0,1 L10,5 L0,9 Z").attr("fill", "black")

function pow10(v) { return Math.pow(10, v) }

function makePanel(x0, y0, y1, tDom, mDom) {
	var id = "clip" + (clipCount++)
	svg.select("defs").append("clipPath").attr("id", id)
		.append("rect").attr("x", x0).attr("y", y0).attr("width", W).attr("height", y1 - y0)
	var g = svg.append("g")
	return {
		g: g,
		plot: g.append("g").attr("clip-path", "url(#" + id + ")"),
		x: d3.scaleLog().domain(tDom.map(pow10)).range([x0, x0 + W]),
		y: d3.scaleLog().domain(mDom.map(pow10)).range([y1, y0]),
		x0: x0, x1: x0 + W, y0: y0, y1: y1
	}
}

function powLabel(text, k) {
	text.append("tspan").text("10")
	text.append("tspan").attr("dy", -7).attr("font-size", 11).text(k < 0 ? "\u2212" + (-k) : String(k))
}

function yAxis(p, powers) {
	p.g.append("g")
		.attr("transform", "translate(" + p.x0 + ",0)")
		.call(d3.axisLeft(p.y).tickValues(powers.map(pow10)).tickSize(6).tickFormat(""))
		.call(a => a.select(".domain").remove())
		.selectAll("line").attr("stroke-width", 1.4)
	powers.forEach(k => {
		var t = p.g.append("text")
			.attr("transform", "translate(" + (p.x0 - 15) + "," + p.y(pow10(k)) + ") rotate(-90)")
			.attr("text-anchor", "middle").attr("font-size", 15)
		powLabel(t, k)
	})
}

function xAxis(p, powers) {
	p.g.append("g")
		.attr("transform", "translate(0," + p.y1 + ")")
		.call(d3.axisBottom(p.x).tickValues(powers.map(pow10)).tickSize(6).tickFormat(""))
		.call(a => a.select(".domain").remove())
		.selectAll("line").attr("stroke-width", 1.4)
	powers.forEach(k => {
		var t = p.g.append("text")
			.attr("x", p.x(pow10(k))).attr("y", p.y1 + 27)
			.attr("text-anchor", "middle").attr("font-size", 15)
		powLabel(t, k)
	})
	var title = p.g.append("text")
		.attr("x", (p.x0 + p.x1) / 2).attr("y", p.y1 + 49)
		.attr("text-anchor", "middle").attr("font-size", 18)
	title.append("tspan").text("t / \u03c4")
	title.append("tspan").attr("dy", 5).attr("font-size", 13).text("B")
}

function yTitle(x, p) {
	var t = svg.append("text")
		.attr("transform", "translate(" + x + "," + ((p.y0 + p.y1) / 2) + ") rotate(-90)")
		.attr("text-anchor", "middle").attr("font-size", 21)
	t.append("tspan").text("Radial MSD / a")
	t.append("tspan").attr("dy", -9).attr("font-size", 15).text("2")
}

function box(p) {
	p.g.append("rect")
		.attr("x", p.x0).attr("y", p.y0).attr("width", W).attr("height", p.y1 - p.y0)
		.attr("fill", "none").attr("stroke", "black").attr("stroke-width", 2.2)
}

function label(p, text, x, y, anchor, size, color) {
	return p.g.append("text").attr("x", x).attr("y", y)
		.attr("text-anchor", anchor || "start")
		.attr("font-size", size || 23)
		.attr("fill", color || "black").text(text)
}

function points(series, times) {
	return series.map((v, i) => v == null ? null : { t: times[i], v: v, i: i }).filter(d => d)
}

var crossPath = "M-5,-5L5,5M-5,5L5,-5"

function drawExp(p, layer, zero) {
	var zp = points(zero, expTimes)
	p.plot.append("path").datum(zp)
		.attr("d", d3.area()
			.x(d => p.x(d.t))
			.y0(d => p.y(pow10(d.v - zeroSpread[d.i])))
			.y1(d => p.y(pow10(d.v + zeroSpread[d.i]))))
		.attr("fill", "#a9a9a9")
	p.plot.append("g").selectAll("circle").data(zp).join("circle")
		.attr("cx", d => p.x(d.t)).attr("cy", d => p.y(pow10(d.v))).attr("r", 2.2)
		.attr("fill", "black")
	for (var s = layer.length - 1; s >= 0; s--) {
		p.plot.append("g").selectAll("rect").data(points(layer[s], expTimes)).join("rect")
			.attr("x", d => p.x(d.t) - 4).attr("y", d => p.y(pow10(d.v)) - 4)
			.attr("width", 8).attr("height", 8)
			.attr("fill", expColors[s]).attr("fill-opacity", 0.5)
			.attr("stroke", "#222").attr("stroke-opacity", 0.6).attr("stroke-width", 0.7)
	}
}

function drawSim(p, layer) {
	for (var s = layer.length - 1; s >= 0; s--) {
		p.plot.append("g").selectAll("path").data(points(layer[s], simTimes)).join("path")
			.attr("transform", d => "translate(" + p.x(d.t) + "," + p.y(pow10(d.v)) + ")")
			.attr("d", crossPath)
			.attr("fill", "none").attr("stroke", simColors[s])
			.attr("stroke-opacity", 0.85).attr("stroke-width", 1.7)
	}
}

var layerSymbols = [
	"M-5.5,-3.2L5.5,-3.2L0,6.3Z",
	"M0,-5.5L5.5,0L0,5.5L-5.5,0Z",
	"M-5.5,3.2L5.5,3.2L0,-6.3Z",
	d3.symbol(d3.symbolCircle, 64)()
]

function drawLayers(p, data, times, fits, filled) {
	data.forEach((series, k) => {
		var sel = p.plot.append("g").selectAll("path").data(points(series, times)).join("path")
			.attr("transform", d => "translate(" + p.x(d.t) + "," + p.y(pow10(d.v)) + ")")
			.attr("d", layerSymbols[k])
		if (filled) {
			sel.attr("fill", layerFill[k]).attr("fill-opacity", 0.85)
				.attr("stroke", "#333").attr("stroke-opacity", 0.7).attr("stroke-width", 0.8)
		} else {
			sel.attr("fill", "none").attr("stroke", layerFill[k])
				.attr("stroke-opacity", 0.6).attr("stroke-width", 1.2)
		}
	})
	fits.forEach((f, k) => {
		p.plot.append("path").datum(f)
			.attr("d", d3.line().curve(d3.curveMonotoneX)
				.x(d => p.x(pow10(d[0]))).y(d => p.y(pow10(d[1]))))
			.attr("fill", "none").attr("stroke", layerLine[k]).attr("stroke-width", 2)
	})
}

function layerLegend(p, x, ys, filled) {
	layerNames.forEach((name, k) => {
		var s = p.g.append("path")
			.attr("transform", "translate(" + x + "," + ys[k] + ")")
			.attr("d", layerSymbols[k])
		if (filled) s.attr("fill", layerFill[k]).attr("stroke", "#333").attr("stroke-width", 0.8)
		else s.attr("fill", "none").attr("stroke", layerFill[k]).attr("stroke-opacity", 0.7).attr("stroke-width", 1.2)
		label(p, name, x + 11, ys[k] + 4.5, "start", 13)
	})
}

// ---------- experiment column ----------
var expRows = [
	{ layer: expLayer4, zero: zero4, tag: "(a)", name: "Layer 4" },
	{ layer: expLayer3, zero: zero3, tag: "(b)", name: "Layer 3" },
	{ layer: expLayer2, zero: zero2, tag: "(c)", name: "Layer 2" },
	{ layer: expLayer1, zero: zero1, tag: "(d)", name: "Layer 1" }
]
expRows.forEach((r, i) => {
	var p = makePanel(78, rows[i], rows[i + 1], expT, expM)
	drawExp(p, r.layer, r.zero)
	yAxis(p, [-3, -2, -1])
	if (i == 3) xAxis(p, [-2, -1, 0, 1, 2])
	yTitle(35, p)
	label(p, r.tag, p.x0 + 5, p.y0 + 27)
	label(p, r.name, p.x1 - 16, p.y1 - 22, "end")
	box(p)
	if (i == 0) {
		label(p, "High Pe", 190, 76, "middle", 23, "#e8393a")
		label(p, "Low Pe", 222, 173, "middle", 23, "#22e0ee")
		label(p, "Pe = 0", 320, 131, "middle", 23)
		p.g.append("path").attr("d", "M201,82 Q214,112 218,157")
			.attr("fill", "none").attr("stroke", "black").attr("stroke-width", 1.5)
			.attr("marker-start", "url(#head)").attr("marker-end", "url(#head)")
	}
})
svg.append("text").attr("x", 240).attr("y", 36).attr("text-anchor", "middle")
	.attr("font-size", 30).text("Experiment")

// ---------- simulation column ----------
var simRows = [
	{ layer: simLayer4, tag: "(e)", name: "Layer 4" },
	{ layer: simLayer3, tag: "(f)", name: "Layer 3" },
	{ layer: simLayer2, tag: "(g)", name: "Layer 2" },
	{ layer: simLayer1, tag: "(h)", name: "Layer 1" }
]
simRows.forEach((r, i) => {
	var p = makePanel(483, rows[i], rows[i + 1], simT, simM)
	drawSim(p, r.layer)
	yAxis(p, [-2, -1])
	if (i == 3) xAxis(p, [-2, -1, 0, 1])
	yTitle(440, p)
	label(p, r.tag, p.x0 + 5, p.y0 + 27)
	label(p, r.name, p.x1 - 16, p.y1 - 22, "end")
	box(p)
	if (i == 0) {
		label(p, "High Pe", 585, 76, "middle", 23, "#e8393a")
		label(p, "Low Pe", 622, 182, "middle", 23, "#b03ae6")
		p.g.append("path").attr("d", "M595,84 Q612,104 612,157")
			.attr("fill", "none").attr("stroke", "black").attr("stroke-width", 1.5)
			.attr("marker-start", "url(#head)").attr("marker-end", "url(#head)")
	}
})
svg.append("text").attr("x", 630).attr("y", 36).attr("text-anchor", "middle")
	.attr("font-size", 30).text("Simulation")

// ---------- legend ----------
var leg = svg.append("g")
leg.append("text").attr("x", 862).attr("y", 40).attr("font-size", 17).text("Exp. Sim.")
legendPe.forEach((pe, i) => {
	var cy = 63.5 + i * 23.5
	if (legendExp[i] != null) {
		leg.append("rect").attr("x", 869.5).attr("y", cy - 5.5).attr("width", 11).attr("height", 11)
			.attr("fill", expColors[legendExp[i]]).attr("fill-opacity", 0.5)
			.attr("stroke", "#333").attr("stroke-width", 1)
	}
	if (legendSim[i] != null) {
		leg.append("path").attr("transform", "translate(917," + cy + ") scale(1.1)")
			.attr("d", crossPath).attr("fill", "none")
			.attr("stroke", simColors[legendSim[i]]).attr("stroke-width", 1.6)
	}
	leg.append("text").attr("x", 943).attr("y", cy + 6.5).attr("font-size", 18).text("Pe = " + pe)
})

// ---------- Pe = 14 panels ----------
var pi = makePanel(898, 355, 542, [-2.446, 2.163], [-3.39, -0.573])
drawLayers(pi, pe14Exp, expTimes, pe14ExpFits, true)
yAxis(pi, [-3, -2, -1])
xAxis(pi, [-2, -1, 0, 1, 2])
yTitle(853, pi)
label(pi, "(i)", 908, 378, "start", 23)
label(pi, "Experiment", 940, 378, "start", 23)
layerLegend(pi, 916, [405, 421, 437, 453], true)
label(pi, "Pe = 14", 1214, 528, "end", 23)
box(pi)

var pj = makePanel(898, 605, 792, [-2.447, 1.447], simM)
drawLayers(pj, pe14Sim, simTimes, pe14SimFits, false)
yAxis(pj, [-2, -1])
xAxis(pj, [-2, -1, 0, 1])
yTitle(853, pj)
label(pj, "(j)", 908, 630, "start", 23)
label(pj, "Simulation", 945, 630, "start", 23)
layerLegend(pj, 915, [652, 668.5, 684.5, 700], false)
label(pj, "Pe = 14", 1215, 778, "end", 23)
box(pj)
</script>
</body>
</html>
